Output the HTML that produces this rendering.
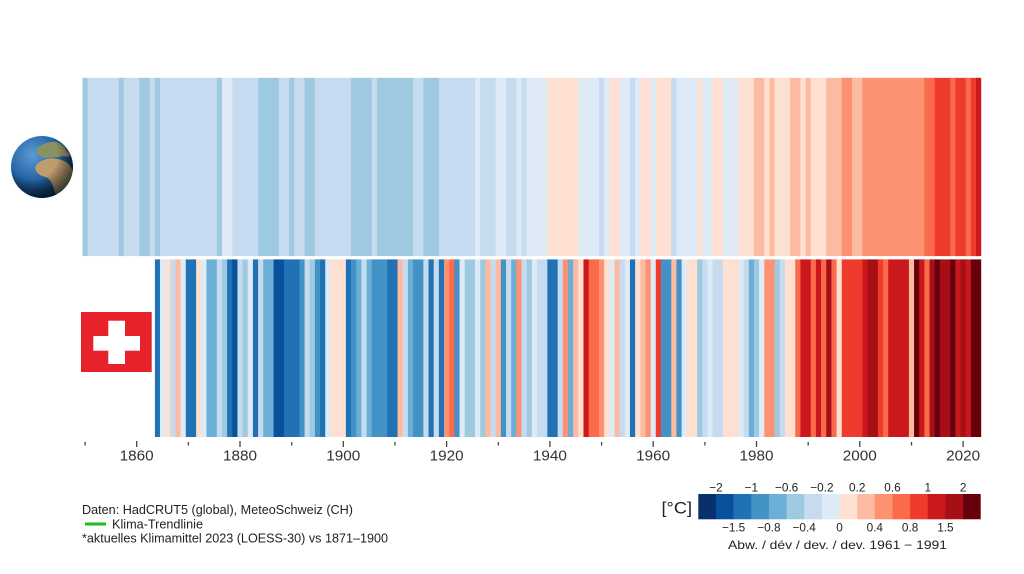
<!DOCTYPE html>
<html><head><meta charset="utf-8">
<style>
html,body{margin:0;padding:0;background:#fff;width:1024px;height:574px;overflow:hidden}
svg{display:block}
.a{fill:#08306b}.b{fill:#08519c}.c{fill:#2171b5}.d{fill:#4292c6}.e{fill:#6baed6}.f{fill:#9ecae1}.g{fill:#c6dbef}.h{fill:#deebf7}
.i{fill:#fee0d2}.j{fill:#fcbba1}.k{fill:#fc9272}.l{fill:#fb6a4a}.m{fill:#ef3b2c}.n{fill:#cb181d}.o{fill:#a50f15}.p{fill:#67000d}
text{font-family:"Liberation Sans",Arial,sans-serif}
</style></head>
<body>
<svg width="1024" height="574" viewBox="0 0 1024 574" xmlns="http://www.w3.org/2000/svg">
<defs>
<radialGradient id="glow" cx="0.5" cy="0.5" r="0.5">
<stop offset="0.8" stop-color="#bfefff" stop-opacity="0.9"/>
<stop offset="1" stop-color="#ffffff" stop-opacity="0"/>
</radialGradient>
<radialGradient id="ocean" cx="0.35" cy="0.3" r="0.8">
<stop offset="0" stop-color="#5a9ad6"/>
<stop offset="0.55" stop-color="#21609f"/>
<stop offset="1" stop-color="#0a2444"/>
</radialGradient>
<radialGradient id="shade" cx="0.35" cy="0.3" r="0.8">
<stop offset="0.5" stop-color="#000" stop-opacity="0"/>
<stop offset="1" stop-color="#001020" stop-opacity="0.85"/>
</radialGradient>
<clipPath id="gc"><circle cx="42" cy="167" r="31"/></clipPath>
</defs>
<rect width="1024" height="574" fill="#fff"/>

<!-- Globe -->
<circle cx="42" cy="167" r="35" fill="url(#glow)"/>
<circle cx="42" cy="167" r="31" fill="url(#ocean)"/>
<g clip-path="url(#gc)">
<path d="M36,150 C40,145 48,141 56,142 C63,144 68,149 66,155 C60,158 51,157 45,158 C40,157 37,154 36,150 Z" fill="#8a9262"/>
<path d="M44,160 C50,157 58,158 64,161 C69,163 72,168 73,173 C71,181 67,187 62,193 C58,196 55,195 54,189 C52,183 50,179 46,177 C40,176 36,173 35,168 C36,164 40,161 44,160 Z" fill="#bf9c6c"/>
<path d="M58,150 C62,147 68,150 70,156 C66,158 62,156 58,150 Z" fill="#a88e60"/>
<circle cx="42" cy="167" r="31" fill="url(#shade)"/>
</g>

<!-- Swiss flag -->
<rect x="81" y="312" width="70.7" height="60" fill="#e8222b"/>
<rect x="108.3" y="320.7" width="16.7" height="43.3" fill="#fff"/>
<rect x="93.3" y="336" width="46.7" height="14.7" fill="#fff"/>

<!-- Global stripes 1850-2023 -->
<svg x="82.5" y="77.7" width="898.7" height="178.5" viewBox="0 0 174 1" preserveAspectRatio="none">
<rect x="0" width="1.3" height="1" class="f"/>
<rect x="1" width="6.3" height="1" class="g"/>
<rect x="7" width="1.3" height="1" class="f"/>
<rect x="8" width="3.3" height="1" class="g"/>
<rect x="11" width="2.3" height="1" class="f"/>
<rect x="13" width="1.3" height="1" class="g"/>
<rect x="14" width="1.3" height="1" class="f"/>
<rect x="15" width="11.3" height="1" class="g"/>
<rect x="26" width="1.3" height="1" class="f"/>
<rect x="27" width="2.3" height="1" class="h"/>
<rect x="29" width="5.3" height="1" class="g"/>
<rect x="34" width="4.3" height="1" class="f"/>
<rect x="38" width="2.3" height="1" class="g"/>
<rect x="40" width="1.3" height="1" class="f"/>
<rect x="41" width="2.3" height="1" class="g"/>
<rect x="43" width="2.3" height="1" class="f"/>
<rect x="45" width="7.3" height="1" class="g"/>
<rect x="52" width="4.3" height="1" class="f"/>
<rect x="56" width="1.3" height="1" class="g"/>
<rect x="57" width="7.3" height="1" class="f"/>
<rect x="64" width="2.3" height="1" class="g"/>
<rect x="66" width="3.3" height="1" class="f"/>
<rect x="69" width="7.3" height="1" class="g"/>
<rect x="76" width="1.3" height="1" class="h"/>
<rect x="77" width="3.3" height="1" class="g"/>
<rect x="80" width="2.3" height="1" class="h"/>
<rect x="82" width="2.3" height="1" class="g"/>
<rect x="84" width="1.3" height="1" class="h"/>
<rect x="85" width="1.3" height="1" class="g"/>
<rect x="86" width="4.3" height="1" class="h"/>
<rect x="90" width="6.3" height="1" class="i"/>
<rect x="96" width="4.3" height="1" class="h"/>
<rect x="100" width="1.3" height="1" class="g"/>
<rect x="101" width="1.3" height="1" class="h"/>
<rect x="102" width="2.3" height="1" class="i"/>
<rect x="104" width="2.3" height="1" class="h"/>
<rect x="106" width="1.3" height="1" class="g"/>
<rect x="107" width="1.3" height="1" class="h"/>
<rect x="108" width="2.3" height="1" class="i"/>
<rect x="110" width="1.3" height="1" class="h"/>
<rect x="111" width="3.3" height="1" class="i"/>
<rect x="114" width="1.3" height="1" class="g"/>
<rect x="115" width="4.3" height="1" class="h"/>
<rect x="119" width="1.3" height="1" class="i"/>
<rect x="120" width="2.3" height="1" class="h"/>
<rect x="122" width="2.3" height="1" class="i"/>
<rect x="124" width="3.3" height="1" class="h"/>
<rect x="127" width="3.3" height="1" class="i"/>
<rect x="130" width="2.3" height="1" class="j"/>
<rect x="132" width="1.3" height="1" class="i"/>
<rect x="133" width="1.3" height="1" class="j"/>
<rect x="134" width="3.3" height="1" class="i"/>
<rect x="137" width="2.3" height="1" class="j"/>
<rect x="139" width="1.3" height="1" class="i"/>
<rect x="140" width="1.3" height="1" class="j"/>
<rect x="141" width="3.3" height="1" class="i"/>
<rect x="144" width="3.3" height="1" class="j"/>
<rect x="147" width="2.3" height="1" class="k"/>
<rect x="149" width="2.3" height="1" class="j"/>
<rect x="151" width="12.3" height="1" class="k"/>
<rect x="163" width="2.3" height="1" class="l"/>
<rect x="165" width="3.3" height="1" class="m"/>
<rect x="168" width="1.3" height="1" class="l"/>
<rect x="169" width="2.3" height="1" class="m"/>
<rect x="171" width="1.3" height="1" class="l"/>
<rect x="172" width="1.3" height="1" class="m"/>
<rect x="173" width="1.3" height="1" class="n"/>
</svg>

<!-- Swiss stripes 1864-2023 -->
<svg x="154.8" y="259.3" width="826.4" height="177.7" viewBox="0 0 160 1" preserveAspectRatio="none">
<rect x="0" width="1.3" height="1" class="c"/>
<rect x="1" width="1.3" height="1" class="h"/>
<rect x="2" width="1.3" height="1" class="i"/>
<rect x="3" width="1.3" height="1" class="g"/>
<rect x="4" width="1.3" height="1" class="j"/>
<rect x="5" width="1.3" height="1" class="h"/>
<rect x="6" width="2.3" height="1" class="c"/>
<rect x="8" width="1.3" height="1" class="i"/>
<rect x="9" width="1.3" height="1" class="h"/>
<rect x="10" width="2.3" height="1" class="e"/>
<rect x="12" width="1.3" height="1" class="g"/>
<rect x="13" width="1.3" height="1" class="f"/>
<rect x="14" width="1.3" height="1" class="c"/>
<rect x="15" width="1.3" height="1" class="b"/>
<rect x="16" width="1.3" height="1" class="g"/>
<rect x="17" width="1.3" height="1" class="f"/>
<rect x="18" width="1.3" height="1" class="h"/>
<rect x="19" width="1.3" height="1" class="c"/>
<rect x="20" width="1.3" height="1" class="g"/>
<rect x="21" width="2.3" height="1" class="e"/>
<rect x="23" width="2.3" height="1" class="b"/>
<rect x="25" width="3.3" height="1" class="c"/>
<rect x="28" width="1.3" height="1" class="d"/>
<rect x="29" width="1.3" height="1" class="g"/>
<rect x="30" width="1.3" height="1" class="f"/>
<rect x="31" width="1.3" height="1" class="d"/>
<rect x="32" width="1.3" height="1" class="c"/>
<rect x="33" width="1.3" height="1" class="h"/>
<rect x="34" width="3.3" height="1" class="i"/>
<rect x="37" width="1.3" height="1" class="c"/>
<rect x="38" width="1.3" height="1" class="d"/>
<rect x="39" width="1.3" height="1" class="e"/>
<rect x="40" width="1.3" height="1" class="g"/>
<rect x="41" width="1.3" height="1" class="e"/>
<rect x="42" width="3.3" height="1" class="d"/>
<rect x="45" width="2.3" height="1" class="c"/>
<rect x="47" width="1.3" height="1" class="j"/>
<rect x="48" width="1.3" height="1" class="g"/>
<rect x="49" width="1.3" height="1" class="e"/>
<rect x="50" width="2.3" height="1" class="d"/>
<rect x="52" width="1.3" height="1" class="g"/>
<rect x="53" width="1.3" height="1" class="c"/>
<rect x="54" width="1.3" height="1" class="g"/>
<rect x="55" width="1.3" height="1" class="c"/>
<rect x="56" width="1.3" height="1" class="k"/>
<rect x="57" width="1.3" height="1" class="l"/>
<rect x="58" width="1.3" height="1" class="d"/>
<rect x="59" width="1.3" height="1" class="h"/>
<rect x="60" width="2.3" height="1" class="f"/>
<rect x="62" width="1.3" height="1" class="h"/>
<rect x="63" width="1.3" height="1" class="f"/>
<rect x="64" width="1.3" height="1" class="j"/>
<rect x="65" width="1.3" height="1" class="g"/>
<rect x="66" width="1.3" height="1" class="j"/>
<rect x="67" width="1.3" height="1" class="d"/>
<rect x="68" width="1.3" height="1" class="g"/>
<rect x="69" width="1.3" height="1" class="e"/>
<rect x="70" width="1.3" height="1" class="k"/>
<rect x="71" width="1.3" height="1" class="g"/>
<rect x="72" width="1.3" height="1" class="f"/>
<rect x="73" width="1.3" height="1" class="h"/>
<rect x="74" width="2.3" height="1" class="g"/>
<rect x="76" width="2.3" height="1" class="c"/>
<rect x="78" width="1.3" height="1" class="g"/>
<rect x="79" width="1.3" height="1" class="k"/>
<rect x="80" width="1.3" height="1" class="e"/>
<rect x="81" width="1.3" height="1" class="j"/>
<rect x="82" width="1.3" height="1" class="i"/>
<rect x="83" width="1.3" height="1" class="n"/>
<rect x="84" width="2.3" height="1" class="l"/>
<rect x="86" width="1.3" height="1" class="k"/>
<rect x="87" width="1.3" height="1" class="i"/>
<rect x="88" width="1.3" height="1" class="h"/>
<rect x="89" width="1.3" height="1" class="j"/>
<rect x="90" width="1.3" height="1" class="g"/>
<rect x="91" width="1.3" height="1" class="h"/>
<rect x="92" width="1.3" height="1" class="c"/>
<rect x="93" width="1.3" height="1" class="i"/>
<rect x="94" width="1.3" height="1" class="j"/>
<rect x="95" width="1.3" height="1" class="k"/>
<rect x="96" width="1.3" height="1" class="h"/>
<rect x="97" width="1.3" height="1" class="m"/>
<rect x="98" width="2.3" height="1" class="d"/>
<rect x="100" width="1.3" height="1" class="j"/>
<rect x="101" width="1.3" height="1" class="d"/>
<rect x="102" width="1.3" height="1" class="h"/>
<rect x="103" width="2.3" height="1" class="i"/>
<rect x="105" width="1.3" height="1" class="f"/>
<rect x="106" width="1.3" height="1" class="g"/>
<rect x="107" width="1.3" height="1" class="h"/>
<rect x="108" width="2.3" height="1" class="g"/>
<rect x="110" width="3.3" height="1" class="i"/>
<rect x="113" width="1.3" height="1" class="h"/>
<rect x="114" width="1.3" height="1" class="g"/>
<rect x="115" width="1.3" height="1" class="e"/>
<rect x="116" width="1.3" height="1" class="f"/>
<rect x="117" width="1.3" height="1" class="h"/>
<rect x="118" width="2.3" height="1" class="k"/>
<rect x="120" width="1.3" height="1" class="f"/>
<rect x="121" width="1.3" height="1" class="g"/>
<rect x="122" width="2.3" height="1" class="i"/>
<rect x="124" width="1.3" height="1" class="l"/>
<rect x="125" width="2.3" height="1" class="n"/>
<rect x="127" width="1.3" height="1" class="l"/>
<rect x="128" width="1.3" height="1" class="n"/>
<rect x="129" width="1.3" height="1" class="l"/>
<rect x="130" width="1.3" height="1" class="o"/>
<rect x="131" width="1.3" height="1" class="l"/>
<rect x="132" width="1.3" height="1" class="i"/>
<rect x="133" width="4.3" height="1" class="m"/>
<rect x="137" width="1.3" height="1" class="n"/>
<rect x="138" width="2.3" height="1" class="o"/>
<rect x="140" width="1.3" height="1" class="m"/>
<rect x="141" width="1.3" height="1" class="l"/>
<rect x="142" width="4.3" height="1" class="n"/>
<rect x="146" width="1.3" height="1" class="j"/>
<rect x="147" width="1.3" height="1" class="p"/>
<rect x="148" width="1.3" height="1" class="n"/>
<rect x="149" width="1.3" height="1" class="l"/>
<rect x="150" width="1.3" height="1" class="o"/>
<rect x="151" width="1.3" height="1" class="p"/>
<rect x="152" width="2.3" height="1" class="o"/>
<rect x="154" width="1.3" height="1" class="p"/>
<rect x="155" width="1.3" height="1" class="n"/>
<rect x="156" width="1.3" height="1" class="o"/>
<rect x="157" width="1.3" height="1" class="n"/>
<rect x="158" width="2.3" height="1" class="p"/>
</svg>

<!-- Axis ticks -->
<g stroke="#444" stroke-width="1.3">
<line x1="85.1" y1="442" x2="85.1" y2="445.5"/>
<line x1="136.7" y1="441" x2="136.7" y2="447"/>
<line x1="188.4" y1="442" x2="188.4" y2="445.5"/>
<line x1="240" y1="441" x2="240" y2="447"/>
<line x1="291.7" y1="442" x2="291.7" y2="445.5"/>
<line x1="343.3" y1="441" x2="343.3" y2="447"/>
<line x1="395" y1="442" x2="395" y2="445.5"/>
<line x1="446.6" y1="441" x2="446.6" y2="447"/>
<line x1="498.3" y1="442" x2="498.3" y2="445.5"/>
<line x1="549.9" y1="441" x2="549.9" y2="447"/>
<line x1="601.6" y1="442" x2="601.6" y2="445.5"/>
<line x1="653.2" y1="441" x2="653.2" y2="447"/>
<line x1="704.9" y1="442" x2="704.9" y2="445.5"/>
<line x1="756.5" y1="441" x2="756.5" y2="447"/>
<line x1="808.2" y1="442" x2="808.2" y2="445.5"/>
<line x1="859.8" y1="441" x2="859.8" y2="447"/>
<line x1="911.5" y1="442" x2="911.5" y2="445.5"/>
<line x1="963.1" y1="441" x2="963.1" y2="447"/>
</g>
<g font-size="14.5" fill="#333" text-anchor="middle">
<text x="136.7" y="460.5" textLength="34" lengthAdjust="spacingAndGlyphs">1860</text>
<text x="240" y="460.5" textLength="34" lengthAdjust="spacingAndGlyphs">1880</text>
<text x="343.3" y="460.5" textLength="34" lengthAdjust="spacingAndGlyphs">1900</text>
<text x="446.6" y="460.5" textLength="34" lengthAdjust="spacingAndGlyphs">1920</text>
<text x="549.9" y="460.5" textLength="34" lengthAdjust="spacingAndGlyphs">1940</text>
<text x="653.2" y="460.5" textLength="34" lengthAdjust="spacingAndGlyphs">1960</text>
<text x="756.5" y="460.5" textLength="34" lengthAdjust="spacingAndGlyphs">1980</text>
<text x="859.8" y="460.5" textLength="34" lengthAdjust="spacingAndGlyphs">2000</text>
<text x="963.1" y="460.5" textLength="34" lengthAdjust="spacingAndGlyphs">2020</text>
</g>

<!-- Source text -->
<g font-size="12.6" fill="#222">
<text x="82" y="514" textLength="271" lengthAdjust="spacingAndGlyphs">Daten: HadCRUT5 (global), MeteoSchweiz (CH)</text>
<text x="112" y="528.3" textLength="91" lengthAdjust="spacingAndGlyphs">Klima-Trendlinie</text>
<text x="82" y="542.7" textLength="306" lengthAdjust="spacingAndGlyphs">*aktuelles Klimamittel 2023 (LOESS-30) vs 1871–1900</text>
</g>
<line x1="85" y1="524" x2="106" y2="524" stroke="#22b822" stroke-width="3"/>

<!-- Legend -->
<text x="661.5" y="513.3" font-size="16.5" fill="#222" textLength="30.5" lengthAdjust="spacingAndGlyphs">[°C]</text>
<g>
<rect x="698.3" y="494" width="17.95" height="25.3" class="a"/>
<rect x="715.95" y="494" width="17.95" height="25.3" class="b"/>
<rect x="733.6" y="494" width="17.95" height="25.3" class="c"/>
<rect x="751.25" y="494" width="17.95" height="25.3" class="d"/>
<rect x="768.9" y="494" width="17.95" height="25.3" class="e"/>
<rect x="786.55" y="494" width="17.95" height="25.3" class="f"/>
<rect x="804.2" y="494" width="17.95" height="25.3" class="g"/>
<rect x="821.85" y="494" width="17.95" height="25.3" class="h"/>
<rect x="839.5" y="494" width="17.95" height="25.3" class="i"/>
<rect x="857.15" y="494" width="17.95" height="25.3" class="j"/>
<rect x="874.8" y="494" width="17.95" height="25.3" class="k"/>
<rect x="892.45" y="494" width="17.95" height="25.3" class="l"/>
<rect x="910.1" y="494" width="17.95" height="25.3" class="m"/>
<rect x="927.75" y="494" width="17.95" height="25.3" class="n"/>
<rect x="945.4" y="494" width="17.95" height="25.3" class="o"/>
<rect x="963.05" y="494" width="17.65" height="25.3" class="p"/>
</g>
<g font-size="11.8" fill="#222" text-anchor="middle">
<text x="716" y="491.5">−2</text>
<text x="751.3" y="491.5">−1</text>
<text x="786.6" y="491.5">−0.6</text>
<text x="821.9" y="491.5">−0.2</text>
<text x="857.2" y="491.5">0.2</text>
<text x="892.5" y="491.5">0.6</text>
<text x="927.8" y="491.5">1</text>
<text x="963.1" y="491.5">2</text>
<text x="733.6" y="531.5">−1.5</text>
<text x="768.9" y="531.5">−0.8</text>
<text x="804.2" y="531.5">−0.4</text>
<text x="839.5" y="531.5">0</text>
<text x="874.8" y="531.5">0.4</text>
<text x="910.1" y="531.5">0.8</text>
<text x="945.4" y="531.5">1.5</text>
<text x="837.5" y="549" textLength="219" lengthAdjust="spacingAndGlyphs">Abw. / dév / dev. / dev. 1961 − 1991</text>
</g>
</svg>
</body></html>
